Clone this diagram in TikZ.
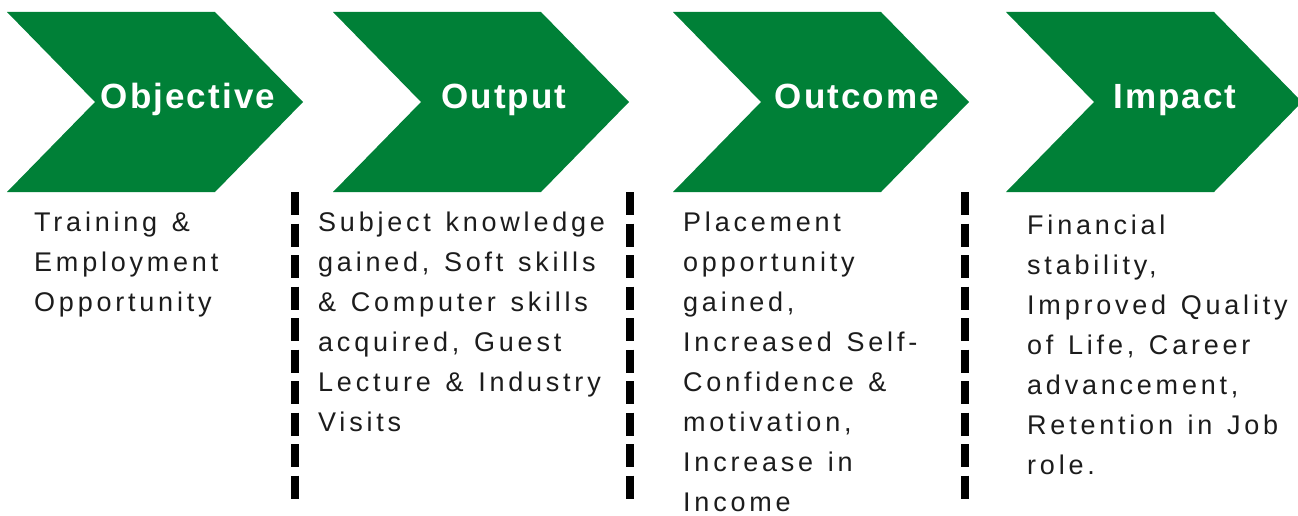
\documentclass[tikz,border=0pt]{standalone}
\usepackage{fontspec}
\setmainfont{Liberation Sans}
\newfontfamily\bodyfont[LetterSpace=14,WordSpace=1.3]{Liberation Sans}
\newfontfamily\headfont[LetterSpace=6]{Liberation Sans}
\usepackage{xcolor}
\usetikzlibrary{positioning}
\definecolor{chevrongreen}{RGB}{0,128,55}
\definecolor{bodygray}{RGB}{28,28,28}

\begin{document}
\begin{tikzpicture}
		[x=1pt,y=-1pt,
		chevron/.style={fill=chevrongreen,draw=none},
		heading/.style={anchor=base,inner sep=0pt,text=white,font=\headfont\bfseries\fontsize{35}{40}\selectfont},
		body/.style={anchor=north west,inner sep=0pt,align=left,text=bodygray,font=\bodyfont\fontsize{27}{40}\selectfont},
		divider/.style={draw=black,line width=8pt,dash pattern=on 23pt off 8.5pt}]
		\useasboundingbox (0,0) rectangle (1298,516);
		\foreach \l in {7,333,673,1006}
			\fill[chevron] (\l,12) -- ++(208,0) -- ++(88,90) -- ++(-88,90) -- ++(-208,0) -- ++(88,-90) -- cycle;
		\node[heading] (objective) at (188,109) {Objective};
		\node[heading] (output) at (504,109) {Output};
		\node[heading] (outcome) at (857,109) {Outcome};
		\node[heading] (impact) at (1175,109) {Impact};
		\node[body] (training) at (34,212) {Training \&\\Employment\\Opportunity};
		\node[body] (knowledge) at (318,212) {Subject knowledge\\gained, Soft skills\\\& Computer skills\\acquired, Guest\\Lecture \& Industry\\Visits};
		\node[body] (placement) at (683,212) {Placement\\opportunity\\gained,\\Increased Self-\\Confidence \&\\motivation,\\Increase in\\Income};
		\node[body] (financial) at (1027,215) {Financial\\stability,\\Improved Quality\\of Life, Career\\advancement,\\Retention in Job\\role.};
		\coordinate (top1) at (295,192);
		\coordinate (bot1) at (295,502);
		\coordinate (top2) at (630,192);
		\coordinate (bot2) at (630,502);
		\coordinate (top3) at (965,192);
		\coordinate (bot3) at (965,502);
		\draw[divider] (top1) -- (bot1);
		\draw[divider] (top2) -- (bot2);
		\draw[divider] (top3) -- (bot3);
\end{tikzpicture}
\end{document}
